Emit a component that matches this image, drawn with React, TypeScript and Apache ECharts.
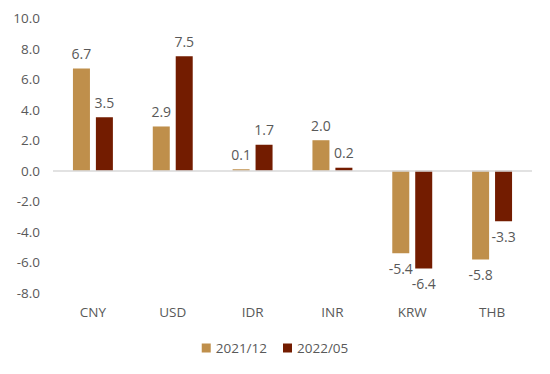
import React, { useEffect, useRef } from "react";
import * as echarts from "echarts";

const categories = ["CNY", "USD", "IDR", "INR", "KRW", "THB"];
const series2021 = [6.7, 2.9, 0.1, 2.0, -5.4, -5.8];
const series2022 = [3.5, 7.5, 1.7, 0.2, -6.4, -3.3];
const seriesNames = ["2021/12", "2022/05"];
const colors = ["#BF8F4B", "#731C00"];

const FONT = "'Open Sans', 'Noto Sans', sans-serif";
const TEXT = "#595959";

function toData(vals: number[]) {
  return vals.map((v) => ({
    value: v,
    label: { position: v < 0 ? "bottom" : "top" },
  }));
}

export default function App() {
  const ref = useRef<HTMLDivElement>(null);
  useEffect(() => {
    document.body.style.margin = "0";
    const chart = echarts.init(ref.current!, null, { renderer: "svg" });
    const mkSeries = (name: string, vals: number[], color: string, withLine: boolean) => ({
      name,
      type: "bar",
      barWidth: 17,
      barGap: "35%",
      data: toData(vals),
      itemStyle: { color },
      label: {
        show: true,
        formatter: (p: any) => Number(p.value).toFixed(1),
        color: TEXT,
        fontFamily: FONT,
        fontSize: 14,
        distance: 8,
      },
      markLine: withLine
        ? {
            silent: true,
            symbol: "none",
            label: { show: false },
            lineStyle: { color: "#D9D9D9", type: "solid", width: 1.5 },
            data: [{ yAxis: 0 }],
          }
        : undefined,
      z: 3,
    });
    chart.setOption({
      animation: false,
      grid: { left: 53, right: 18, top: 18, bottom: 81 },
      legend: {
        bottom: 14,
        left: "center",
        itemWidth: 9,
        itemHeight: 9,
        itemGap: 16,
        icon: "rect",
        textStyle: { color: TEXT, fontFamily: FONT, fontSize: 13.5 },
        data: seriesNames,
      },
      xAxis: {
        type: "category",
        data: categories,
        axisLine: { show: false, onZero: false },
        axisTick: { show: false },
        axisLabel: { color: TEXT, fontFamily: FONT, fontSize: 13.5, margin: 12 },
        splitLine: { show: false },
      },
      yAxis: {
        type: "value",
        min: -8,
        max: 10,
        interval: 2,
        axisLine: { show: false },
        axisTick: { show: false },
        splitLine: { show: false },
        axisLabel: {
          color: TEXT,
          fontFamily: FONT,
          fontSize: 13.5,
          margin: 13,
          formatter: (v: number) => v.toFixed(1),
        },
      },
      series: [
        mkSeries(seriesNames[0], series2021, colors[0], true),
        mkSeries(seriesNames[1], series2022, colors[1], false),
      ],
    });
    return () => chart.dispose();
  }, []);
  return <div ref={ref} style={{ width: 550, height: 374 }} />;
}
